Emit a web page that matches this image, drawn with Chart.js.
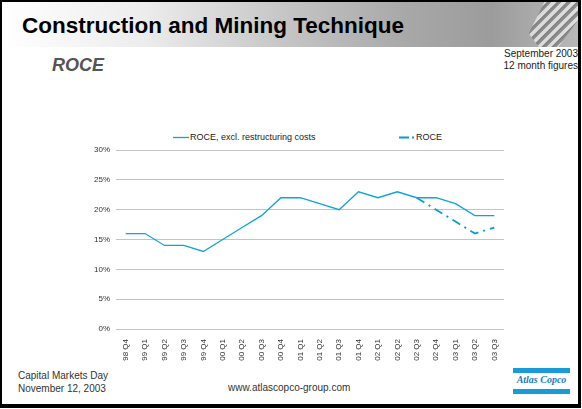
<!DOCTYPE html>
<html>
<head>
<meta charset="utf-8">
<script src="https://cdn.jsdelivr.net/npm/chart.js@4"></script>
<style>
  body { margin: 0; width: 582px; height: 409px; background: #fff; font-family: "Liberation Sans", Arial, sans-serif; overflow: hidden; }
  #frame { position: absolute; left: 0; top: 0; width: 576px; height: 402px; border: 2px solid #000; border-right-width: 3px; border-bottom-width: 4px; }
  #header { position: absolute; left: 2px; top: 2px; width: 576px; height: 45px;
    background: linear-gradient(to right, #ffffff 0%, #ececec 25%, #c4c4c4 50%, #a8a8a8 70%, #9c9c9c 85%, #b8b8b8 100%); }
  #gear { position: absolute; left: 522px; top: 2px; width: 56px; height: 45px;
    background: repeating-linear-gradient(135deg, #e8e8e8 0px, #f4f4f4 3px, #6a6a6a 4px, #8a8a8a 7px);
    opacity: 0.7; clip-path: polygon(30% 100%, 12% 70%, 40% 0, 100% 0, 100% 40%, 65% 100%); }
  .t { position: absolute; white-space: nowrap; }
  #title { left: 22px; top: 13px; font-size: 22.5px; font-weight: bold; color: #000; }
  #sub { left: 52px; top: 55px; font-size: 18px; font-weight: bold; font-style: italic; color: #555; }
  #date { right: 4px; top: 48px; font-size: 10px; color: #222; text-align: right; line-height: 12px; }
  #foot1 { left: 18px; top: 369px; font-size: 10px; color: #333; line-height: 13px; }
  #foot2 { left: 228px; top: 382px; font-size: 10px; color: #333; }
  #logo { position: absolute; left: 513px; top: 368px; width: 57px; height: 26px; }
  #logo .bar { position: absolute; left: 0; width: 57px; height: 5px; background: #1a9ad6; }
  #logo .txt { position: absolute; left: 0; top: 6px; width: 57px; text-align: center; font-size: 10px; font-weight: bold; font-style: italic; color: #1a7ec0; font-family: "Liberation Serif", serif; }
  #legend { position: absolute; top: 131px; left: 0; width: 582px; height: 12px; font-size: 9px; color: #222; }
  #legend .item { position: absolute; top: 0; display: flex; align-items: center; }
  #wrap { position: absolute; left: 0; top: 128px; width: 582px; height: 248px; }
</style>
</head>
<body>
<div id="frame"></div>
<div id="header"></div>
<div id="gear"></div>
<div class="t" id="title">Construction and Mining Technique</div>
<div class="t" id="sub">ROCE</div>
<div class="t" id="date">September 2003<br>12 month figures</div>
<div class="t" id="foot1">Capital Markets Day<br>November 12, 2003</div>
<div class="t" id="foot2">www.atlascopco-group.com</div>
<div id="logo"><div class="bar" style="top:0"></div><div class="txt">Atlas Copco</div><div class="bar" style="top:21px"></div></div>
<div id="legend"></div>
<div id="wrap"><canvas id="chart" width="582" height="248"></canvas></div>
<script>
const quarters = ["98 Q4", "99 Q1", "99 Q2", "99 Q3", "99 Q4", "00 Q1", "00 Q2", "00 Q3", "00 Q4",
  "01 Q1", "01 Q2", "01 Q3", "01 Q4", "02 Q1", "02 Q2", "02 Q3", "02 Q4", "03 Q1", "03 Q2", "03 Q3"];
const roceExcl = [16, 16, 14, 14, 13, 15, 17, 19, 22, 22, 21, 20, 23, 22, 23, 22, 22, 21, 19, 19];
const roce = [null, null, null, null, null, null, null, null, null, null, null, null, null, null, null,
  22, 20, 18, 16, 17];
const yTicks = [0, 5, 10, 15, 20, 25, 30];

const lineColor = "#12a3d6";

const chart = new Chart(document.getElementById("chart"), {
  type: "line",
  data: {
    labels: quarters,
    datasets: [
      {
        label: "ROCE, excl. restructuring costs",
        data: roceExcl,
        borderColor: lineColor,
        borderWidth: 1.3,
        pointRadius: 0,
        tension: 0,
      },
      {
        label: "ROCE",
        data: roce,
        borderColor: "#0b9bcf",
        borderWidth: 1.8,
        borderDash: [9, 5, 2, 5],
        pointRadius: 0,
        tension: 0,
      },
    ],
  },
  options: {
    responsive: false,
    maintainAspectRatio: false,
    animation: false,
    layout: { padding: { left: 0, right: 78, top: 22, bottom: 0 } },
    plugins: { legend: { display: false }, tooltip: { enabled: false } },
    scales: {
      x: {
        offset: true,
        grid: { display: false },
        border: { display: false },
        ticks: {
          minRotation: 90,
          maxRotation: 90,
          autoSkip: false,
          padding: 2,
          color: "#333",
          font: { family: "Liberation Sans", size: 8 },
        },
        afterFit: (s) => { s.height = 47; },
      },
      y: {
        min: 0,
        max: 30,
        afterBuildTicks: (s) => { s.ticks = yTicks.map((v) => ({ value: v })); },
        grid: { color: "#c4c4c4", lineWidth: 1, drawTicks: false },
        border: { display: false },
        ticks: {
          padding: 6,
          color: "#333",
          font: { family: "Liberation Sans", size: 8 },
          callback: (v) => v + "%",
        },
        afterFit: (s) => { s.width = 116; },
      },
    },
  },
});

// html legend built from the datasets
const legendX = [173, 399];
const legend = document.getElementById("legend");
chart.data.datasets.forEach((ds, i) => {
  const item = document.createElement("div");
  item.className = "item";
  item.style.left = legendX[i] + "px";
  const dash = ds.borderDash ? "10,3,2,3" : "none";
  item.innerHTML =
    '<svg width="16" height="12"><line x1="0" y1="6.5" x2="16" y2="6.5" stroke="' + ds.borderColor +
    '" stroke-width="' + ds.borderWidth + '" stroke-dasharray="' + dash + '"/></svg>' +
    '<span style="margin-left:1px">' + ds.label + "</span>";
  legend.appendChild(item);
});
</script>
</body>
</html>
